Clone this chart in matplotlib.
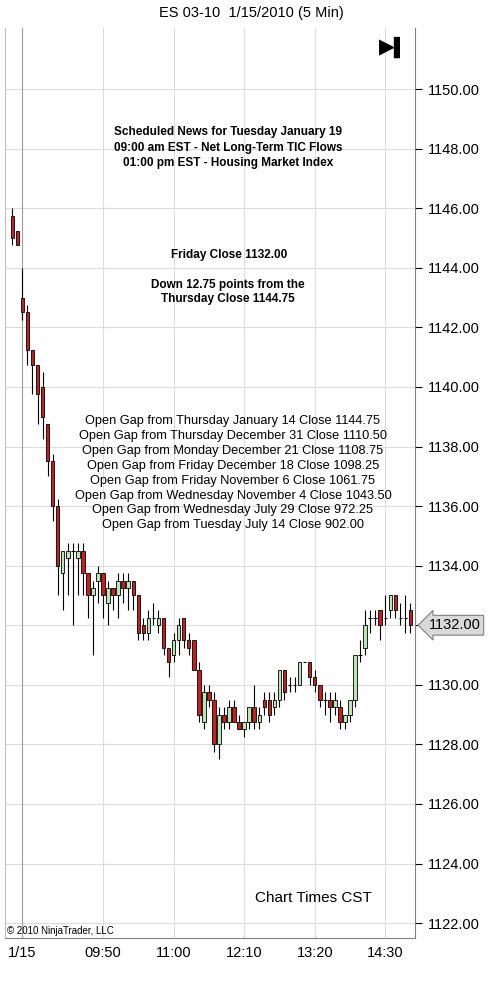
import matplotlib
matplotlib.use("Agg")
import matplotlib.pyplot as plt
from matplotlib.patches import Rectangle

plt.rcParams['font.family'] = ['Liberation Sans', 'DejaVu Sans']

# OHLC, 5 min bars (first two are the Thursday close bars)
opens = [1145.75, 1145.25, 1143.0, 1142.5, 1141.25, 1140.75, 1140.0, 1138.75, 1137.5, 1136.0,
         1133.75, 1134.25, 1134.5, 1134.25, 1134.5, 1133.75, 1133.0, 1133.5, 1133.75, 1132.75,
         1133.25, 1133.0, 1133.5, 1133.25, 1133.5, 1133.0, 1132.0, 1131.75, 1132.25, 1132.0,
         1132.25, 1131.25, 1131.0, 1131.5, 1132.25, 1131.5, 1131.5, 1130.5, 1128.75, 1129.75,
         1129.5, 1128.0, 1129.0, 1128.75, 1129.25, 1128.75, 1128.5, 1128.75, 1129.25, 1128.75,
         1129.5, 1129.5, 1129.25, 1129.5, 1130.5, 1130.0, 1130.0, 1130.0, 1130.75, 1130.75,
         1130.25, 1130.0, 1129.5, 1129.5, 1129.25, 1129.25, 1128.75, 1129.0, 1129.5, 1131.0,
         1131.25, 1132.25, 1132.25, 1132.5, 1132.25, 1132.5, 1133.0, 1132.25, 1132.25, 1132.5]
highs = [1146.0, 1145.25, 1144.0, 1142.75, 1141.25, 1140.75, 1140.5, 1138.75, 1137.75, 1136.25,
         1134.5, 1134.75, 1134.75, 1134.75, 1134.75, 1133.75, 1133.5, 1134.0, 1133.75, 1133.5,
         1133.25, 1133.75, 1133.75, 1133.75, 1133.5, 1133.0, 1132.25, 1132.5, 1132.75, 1132.5,
         1132.25, 1131.25, 1131.75, 1132.25, 1132.25, 1131.75, 1131.5, 1130.75, 1130.0, 1130.0,
         1129.75, 1129.25, 1129.25, 1129.5, 1129.5, 1129.0, 1128.75, 1129.25, 1130.0, 1129.25,
         1129.75, 1129.75, 1129.75, 1130.5, 1130.5, 1130.25, 1130.25, 1130.75, 1130.75, 1130.75,
         1130.5, 1130.0, 1129.75, 1129.75, 1129.75, 1129.5, 1129.0, 1129.5, 1131.0, 1131.5,
         1132.5, 1132.5, 1132.5, 1132.5, 1133.0, 1133.0, 1133.0, 1132.75, 1133.0, 1132.75]
lows = [1144.75, 1144.75, 1142.25, 1140.75, 1139.75, 1138.75, 1138.25, 1137.0, 1135.5, 1133.0,
        1132.5, 1133.0, 1132.0, 1133.0, 1133.0, 1132.25, 1131.0, 1132.75, 1132.25, 1132.0,
        1132.5, 1132.25, 1132.75, 1132.5, 1132.5, 1131.5, 1131.5, 1131.5, 1132.0, 1131.75,
        1131.0, 1130.25, 1130.75, 1131.0, 1131.25, 1131.0, 1130.5, 1128.75, 1128.5, 1129.25,
        1127.75, 1127.5, 1128.5, 1128.5, 1128.75, 1128.5, 1128.25, 1128.5, 1128.5, 1128.5,
        1129.0, 1128.75, 1129.0, 1129.25, 1129.5, 1129.75, 1129.75, 1130.0, 1130.75, 1130.0,
        1129.75, 1129.25, 1129.0, 1128.75, 1129.0, 1128.5, 1128.5, 1128.75, 1129.25, 1130.75,
        1131.0, 1131.75, 1132.0, 1131.5, 1132.0, 1132.25, 1132.25, 1132.0, 1131.75, 1131.75]
closes = [1145.0, 1144.75, 1142.5, 1141.25, 1140.75, 1139.75, 1139.0, 1137.5, 1136.0, 1134.0,
          1134.5, 1134.5, 1134.5, 1134.5, 1133.75, 1133.0, 1133.25, 1133.75, 1133.0, 1133.25,
          1133.0, 1133.5, 1133.25, 1133.5, 1133.0, 1131.75, 1131.75, 1132.25, 1132.25, 1132.25,
          1131.25, 1130.75, 1131.5, 1132.0, 1131.5, 1131.25, 1130.5, 1129.0, 1129.75, 1129.5,
          1128.0, 1129.0, 1128.75, 1129.25, 1128.75, 1128.5, 1128.75, 1129.25, 1128.75, 1129.0,
          1129.25, 1129.0, 1129.5, 1130.5, 1129.75, 1130.0, 1130.0, 1130.75, 1130.75, 1130.25,
          1130.0, 1129.5, 1129.5, 1129.25, 1129.5, 1128.75, 1129.0, 1129.5, 1131.0, 1131.0,
          1132.0, 1132.25, 1132.25, 1132.0, 1132.25, 1133.0, 1132.5, 1132.25, 1132.25, 1132.0]

tick_pos = [2, 18, 32, 46, 60, 74]
tick_labels = ["1/15", "09:50", "11:00", "12:10", "13:20", "14:30"]
price_ticks = list(range(1122, 1151, 2))
last_price = 1132.00

news = ["Scheduled News for Tuesday January 19",
        "09:00 am EST - Net Long-Term TIC Flows",
        "01:00 pm EST - Housing Market Index"]
gaps = ["Open Gap from Thursday January 14 Close 1144.75",
        "Open Gap from Thursday December 31 Close 1110.50",
        "Open Gap from Monday December 21 Close 1108.75",
        "Open Gap from Friday December 18 Close 1098.25",
        "Open Gap from Friday November 6 Close 1061.75",
        "Open Gap from Wednesday November 4 Close 1043.50",
        "Open Gap from Wednesday July 29 Close 972.25",
        "Open Gap from Tuesday July 14 Close 902.00"]

W, H = 502, 999
fig = plt.figure(figsize=(W / 100, H / 100), dpi=100)
ax = fig.add_axes([5 / W, 1 - 938 / H, 410 / W, 910 / H])

for x in tick_pos:
    ax.axvline(x, color="#dcdcdc", lw=0.8, zorder=0)
for p in price_ticks:
    ax.axhline(p, color="#dcdcdc", lw=0.8, zorder=0)
ax.axvline(1.9, color="#a0a0a0", lw=0.8, zorder=0)

for i, (o, h, l, c) in enumerate(zip(opens, highs, lows, closes)):
    ax.vlines(i, l, h, color="black", lw=0.8, zorder=2)
    col = "#b8e6b4" if c > o else ("#c81e1e" if c < o else "black")
    if c == o:
        ax.hlines(c, i - 0.35, i + 0.35, color="black", lw=0.8, zorder=3)
    else:
        ax.add_patch(Rectangle((i - 0.35, min(o, c)), 0.7, abs(c - o), facecolor=col,
                               edgecolor="black", lw=0.6, zorder=3))

ax.set_xlim(-1.45, 79.9)
ax.set_ylim(1121.5, 1152.05)
ax.set_xticks(tick_pos)
ax.set_xticklabels(tick_labels, fontsize=10.5)
ax.yaxis.tick_right()
ax.set_yticks(price_ticks)
ax.set_yticklabels(["" if p == last_price else f"{p:.2f}" for p in price_ticks], fontsize=10.5)
ax.tick_params(axis="y", length=5, pad=4)
ax.tick_params(axis="x", length=0, pad=6)
ax.spines["top"].set_visible(False)
ax.spines["left"].set_color("#c0c0c0")
ax.spines["right"].set_color("#808080")
ax.spines["bottom"].set_color("#808080")

ax.annotate(f"{last_price:.2f}", xy=(1.0, last_price), xycoords=("axes fraction", "data"),
            xytext=(10, 0), textcoords="offset points", va="center", ha="left", fontsize=10.5,
            bbox=dict(boxstyle="larrow,pad=0.2", fc="#d9d9d9", ec="#808080", lw=0.8),
            annotation_clip=False)

fig.text(251 / W, 1 - 13 / H, "ES 03-10  1/15/2010 (5 Min)", ha="center", va="center", fontsize=10.5)
for k, t in enumerate(news):
    fig.text(228 / W, 1 - (132 + 15.5 * k) / H, t, ha="center", va="center", fontsize=8.5, weight="bold")
fig.text(229 / W, 1 - 255 / H, "Friday Close 1132.00", ha="center", va="center", fontsize=8.5, weight="bold")
fig.text(228 / W, 1 - 285 / H, "Down 12.75 points from the", ha="center", va="center", fontsize=8.5, weight="bold")
fig.text(228 / W, 1 - 299 / H, "Thursday Close 1144.75", ha="center", va="center", fontsize=8.5, weight="bold")
for k, t in enumerate(gaps):
    fig.text(233 / W, 1 - (421 + 14.9 * k) / H, t, ha="center", va="center", fontsize=9.2)
fig.text(313 / W, 1 - 898 / H, "Chart Times CST", ha="center", va="center", fontsize=11)
fig.text(7 / W, 1 - 931 / H, "© 2010 NinjaTrader, LLC", ha="left", va="center", fontsize=7)
fig.text(395 / W, 1 - 47 / H, "▶▍", ha="center", va="center", fontsize=15, family="DejaVu Sans")

fig.savefig("out.png", dpi=100)
